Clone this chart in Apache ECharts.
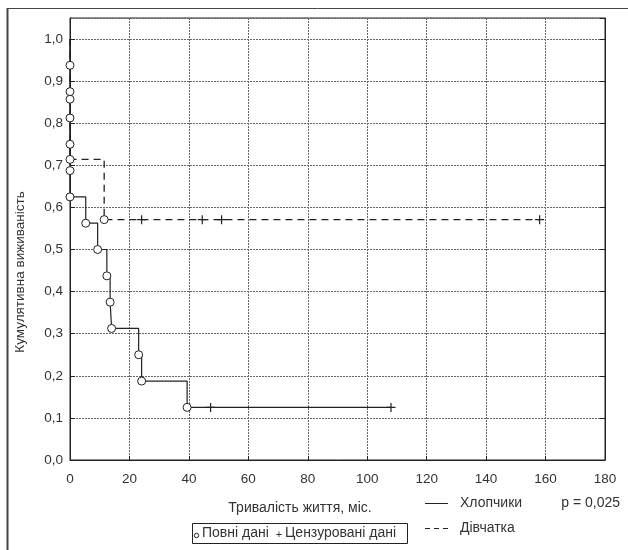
<!DOCTYPE html>
<html><head><meta charset="utf-8">
<script src="https://cdn.jsdelivr.net/npm/echarts@6/dist/echarts.min.js"></script>
<style>html,body{margin:0;padding:0;background:#fff}#c{width:628px;height:550px}</style>
</head><body><div id="c"></div>
<script>
// Boys (Хлопчики): KM step points [time, survival]
const boysTimes = [0, 0, 0, 0, 0, 0, 0, 5.3, 9.3, 12.4, 13.5, 14.0, 23.1, 24.1, 39.4, 108];
const boysSurv  = [1.0, 0.9375, 0.875, 0.8125, 0.75, 0.6875, 0.625, 0.5625, 0.5, 0.4375, 0.375, 0.3125, 0.25, 0.1875, 0.125, 0.125];
const boysEventTimes = [0, 0, 0, 0, 0, 0, 5.3, 9.3, 12.4, 13.5, 14.0, 23.1, 24.1, 39.4];
const boysEventSurv  = [0.9375, 0.875, 0.8125, 0.75, 0.6875, 0.625, 0.5625, 0.5, 0.4375, 0.375, 0.3125, 0.25, 0.1875, 0.125];
const boysCensTimes = [47.3, 108];
const boysCensSurv  = [0.125, 0.125];
// Girls (Дівчатка)
const girlsTimes = [0, 0, 0, 11.5, 158];
const girlsSurv  = [1.0, 0.857, 0.714, 0.571, 0.571];
const girlsEventTimes = [0, 0, 11.5];
const girlsEventSurv  = [0.857, 0.714, 0.571];
const girlsCensTimes = [24.1, 44.5, 51.0, 158];
const girlsCensSurv  = [0.571, 0.571, 0.571, 0.571];
const xTicks = [0, 20, 40, 60, 80, 100, 120, 140, 160, 180];
const yTicks = [0.0, 0.1, 0.2, 0.3, 0.4, 0.5, 0.6, 0.7, 0.8, 0.9, 1.0];

const zip = (a, b) => a.map((v, i) => [v, b[i]]);
const FONT = 'Liberation Sans, Arial, sans-serif';
const TXT = '#333';
const LINE = '#222';
const plus = 'path://M0,5L10,5M5,0L5,10';

const chart = echarts.init(document.getElementById('c'), null, {renderer: 'canvas'});
const gridLine = {show: true, lineStyle: {color: '#666', type: [2, 1], width: 1}};
chart.setOption({
  animation: false,
  backgroundColor: '#fff',
  textStyle: {fontFamily: FONT},
  grid: {left: 70, right: 23, top: 18, bottom: 90, show: true, borderColor: LINE, borderWidth: 1, backgroundColor: 'transparent'},
  xAxis: {
    type: 'value', min: xTicks[0], max: xTicks[xTicks.length - 1], interval: 20,
    axisLine: {show: true, lineStyle: {color: LINE}},
    axisTick: {show: true, inside: true, length: 4, lineStyle: {color: LINE}},
    axisLabel: {color: TXT, fontSize: 13.5, margin: 12, fontFamily: FONT},
    splitLine: gridLine
  },
  yAxis: [{
    type: 'value', min: 0, max: 1.05, interval: 0.1,
    axisLine: {show: true, lineStyle: {color: LINE}},
    axisTick: {show: true, inside: true, length: 5, lineStyle: {color: LINE}},
    axisLabel: {color: TXT, fontSize: 13.5, margin: 7, fontFamily: FONT, showMaxLabel: false,
      formatter: v => (Math.abs(v * 10 - Math.round(v * 10)) < 1e-6 && v <= 1.0001) ? v.toFixed(1).replace('.', ',') : ''},
    splitLine: gridLine
  }, {
    type: 'value', min: 0, max: 1.05, interval: 0.1, position: 'right',
    axisLine: {show: true, lineStyle: {color: LINE}},
    axisTick: {show: true, inside: true, length: 5, lineStyle: {color: LINE}},
    axisLabel: {show: false}, splitLine: {show: false}
  }],
  series: [
    {type: 'line', step: 'end', data: zip(boysTimes, boysSurv), showSymbol: false, symbol: 'none',
     lineStyle: {color: LINE, width: 1.2}, z: 3},
    {type: 'line', step: 'end', data: zip(girlsTimes, girlsSurv), showSymbol: false, symbol: 'none',
     lineStyle: {color: LINE, width: 1.3, type: [7, 5]}, z: 3},
    {type: 'scatter', data: zip(boysEventTimes, boysEventSurv), symbol: 'circle', symbolSize: 8,
     itemStyle: {color: '#fff', borderColor: LINE, borderWidth: 1, opacity: 1}, z: 5},
    {type: 'scatter', data: zip(girlsEventTimes, girlsEventSurv), symbol: 'circle', symbolSize: 8,
     itemStyle: {color: '#fff', borderColor: LINE, borderWidth: 1, opacity: 1}, z: 5},
    {type: 'scatter', data: zip(boysCensTimes, boysCensSurv), symbol: plus, symbolSize: [9, 9],
     itemStyle: {color: 'none', borderColor: LINE, borderWidth: 1.2, opacity: 1}, z: 5},
    {type: 'scatter', data: zip(girlsCensTimes, girlsCensSurv), symbol: plus, symbolSize: [9, 9],
     itemStyle: {color: 'none', borderColor: LINE, borderWidth: 1.2, opacity: 1}, z: 5}
  ],
  graphic: [
    {type: 'line', shape: {x1: 7.5, y1: 8, x2: 7.5, y2: 550}, style: {stroke: '#444', lineWidth: 2}},
    {type: 'line', shape: {x1: 7, y1: 8.5, x2: 628, y2: 8.5}, style: {stroke: '#444', lineWidth: 1}},
    {type: 'text', x: 20, y: 272, rotation: Math.PI / 2,
     style: {text: 'Кумулятивна виживаність', font: '13.5px ' + FONT, fill: TXT, textAlign: 'center', textVerticalAlign: 'middle'}},
    {type: 'text', x: 300, y: 508,
     style: {text: 'Тривалість життя, міс.', font: '14px ' + FONT, fill: TXT, textAlign: 'center', textVerticalAlign: 'middle'}},
    {type: 'rect', shape: {x: 192.5, y: 523.5, width: 215, height: 20}, style: {fill: 'none', stroke: LINE, lineWidth: 1}},
    {type: 'circle', shape: {cx: 196.5, cy: 535.5, r: 2.2}, style: {fill: '#fff', stroke: LINE, lineWidth: 1}},
    {type: 'text', x: 202, y: 533, style: {text: 'Повні дані', font: '14px ' + FONT, fill: TXT, textVerticalAlign: 'middle'}},
    {type: 'text', x: 279, y: 535, style: {text: '+', font: '11px ' + FONT, fill: TXT, textAlign: 'center', textVerticalAlign: 'middle'}},
    {type: 'text', x: 285, y: 533, style: {text: 'Цензуровані дані', font: '14px ' + FONT, fill: TXT, textVerticalAlign: 'middle'}},
    {type: 'line', shape: {x1: 425, y1: 503.5, x2: 448, y2: 503.5}, style: {stroke: LINE, lineWidth: 1}},
    {type: 'text', x: 460, y: 503, style: {text: 'Хлопчики', font: '14px ' + FONT, fill: TXT, textVerticalAlign: 'middle'}},
    {type: 'text', x: 620, y: 503, style: {text: 'p = 0,025', font: '14px ' + FONT, fill: TXT, textAlign: 'right', textVerticalAlign: 'middle'}},
    {type: 'line', shape: {x1: 425, y1: 528.5, x2: 448, y2: 528.5}, style: {stroke: LINE, lineWidth: 1, lineDash: [5, 4]}},
    {type: 'text', x: 460, y: 528, style: {text: 'Дівчатка', font: '14px ' + FONT, fill: TXT, textVerticalAlign: 'middle'}}
  ]
});
</script></body></html>
